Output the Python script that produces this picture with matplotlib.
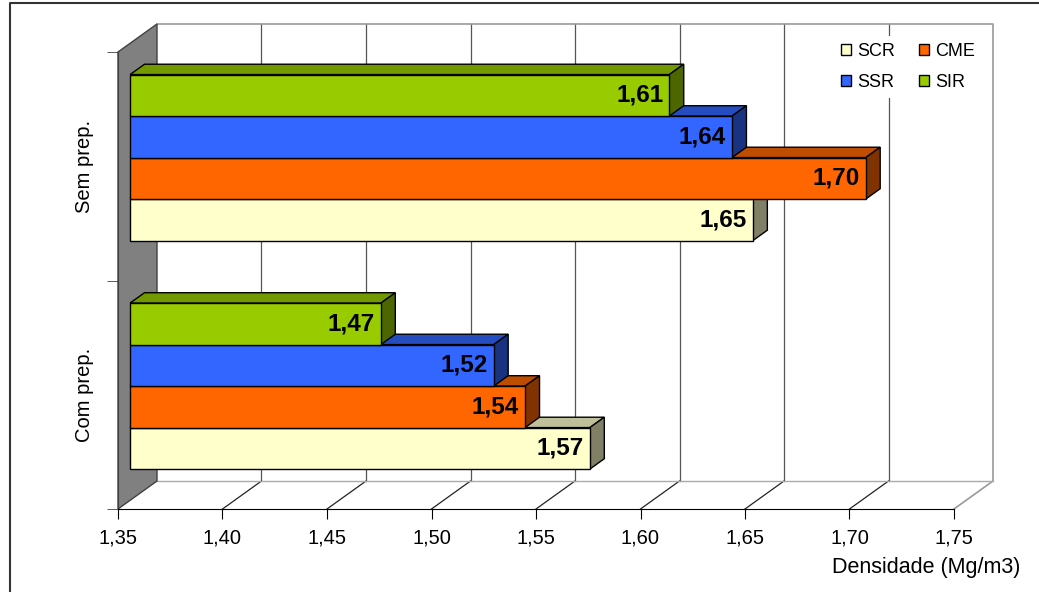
import matplotlib.pyplot as plt
import numpy as np
from matplotlib.patches import Polygon, Patch
from matplotlib.lines import Line2D

plt.rcParams['font.family'] = ['Liberation Sans', 'DejaVu Sans']

# dados
categorias = ['Com prep.', 'Sem prep.']
series = ['SCR', 'CME', 'SSR', 'SIR']
valores = {
    'SCR': [1.570, 1.648],
    'CME': [1.539, 1.702],
    'SSR': [1.524, 1.638],
    'SIR': [1.470, 1.608],
}
cores = {'SCR': '#FFFFCC', 'CME': '#FF6600', 'SSR': '#3366FF', 'SIR': '#99CC00'}
xticks = [1.35, 1.40, 1.45, 1.50, 1.55, 1.60, 1.65, 1.70, 1.75]

W, H = 1039, 592
fig = plt.figure(figsize=(W / 100, H / 100), dpi=100)
ax = fig.add_axes([118 / W, 83 / H, 836 / W, 457 / H])
x0, x1 = 1.35, 1.75
ax.set_xlim(x0, x1)
ax.set_ylim(0, 2)

# profundidade do "3D" em unidades de dados
px_x = (x1 - x0) / 836
px_y = 2 / 457
DX = 39 * px_x
DY = 28 * px_y
f1, f2 = 0.31, 0.68   # frente e fundo das barras


def escurece(c, k):
    r, g, b = [int(c[i:i + 2], 16) / 255 for i in (1, 3, 5)]
    return (r * k, g * k, b * k)


# parede do fundo e piso
for t in xticks[1:-1]:
    ax.plot([t + DX, t + DX], [DY, 2 + DY], color='#555555', lw=0.9, clip_on=False, zorder=1)
    ax.plot([t, t + DX], [0, DY], color='#222222', lw=0.9, clip_on=False, zorder=1)
ax.plot([x0 + DX, x1 + DX, x1 + DX, x1], [2 + DY, 2 + DY, DY, 0],
        color='#999999', lw=1.2, clip_on=False, zorder=1)
ax.plot([x0 + DX, x1 + DX], [DY, DY], color='#aaaaaa', lw=1.0, clip_on=False, zorder=1)

# parede lateral esquerda
parede = Polygon([(x0, 0), (x0 + DX, DY), (x0 + DX, 2 + DY), (x0, 2)],
                 facecolor='#808080', edgecolor='#404040', lw=1, clip_on=False, zorder=2)
ax.add_patch(parede)

# barras
alt = 0.1816
margem = (1 - 4 * alt) / 2
for c in range(len(categorias)):
    for i, s in enumerate(series):
        v = valores[s][c]
        ya = c + margem + i * alt
        yb = ya + alt
        ox1, oy1 = f1 * DX, f1 * DY
        ox2, oy2 = f2 * DX, f2 * DY
        topo = [(x0 + ox1, yb + oy1), (v + ox1, yb + oy1), (v + ox2, yb + oy2), (x0 + ox2, yb + oy2)]
        lado = [(v + ox1, ya + oy1), (v + ox1, yb + oy1), (v + ox2, yb + oy2), (v + ox2, ya + oy2)]
        frente = [(x0 + ox1, ya + oy1), (v + ox1, ya + oy1), (v + ox1, yb + oy1), (x0 + ox1, yb + oy1)]
        z = 3 + c * 10 + i
        ax.add_patch(Polygon(topo, facecolor=escurece(cores[s], 0.75), edgecolor='black',
                             lw=1, clip_on=False, zorder=z))
        ax.add_patch(Polygon(lado, facecolor=escurece(cores[s], 0.5), edgecolor='black',
                             lw=1, clip_on=False, zorder=z))
        ax.add_patch(Polygon(frente, facecolor=cores[s], edgecolor='black',
                             lw=1, clip_on=False, zorder=z))
        ax.text(v + ox1 - 6 * px_x, (ya + yb) / 2 + oy1, f"{v:.2f}".replace('.', ','),
                ha='right', va='center', fontsize=17.5, fontweight='bold', zorder=z + 0.5)

# eixos
for lado in ['top', 'right']:
    ax.spines[lado].set_visible(False)
ax.spines['left'].set_color('#404040')
ax.spines['bottom'].set_color('black')
ax.set_facecolor('none')
ax.set_xticks(xticks)
ax.set_xticklabels([f"{t:.2f}".replace('.', ',') for t in xticks], fontsize=14.5)
ax.tick_params(axis='x', direction='out', length=7, pad=7, color='black')
ax.set_yticks([0.5, 1.5])
ax.set_yticklabels(categorias, rotation=90, va='center', fontsize=14.5)
ax.set_yticks([0, 1, 2], minor=True)
ax.tick_params(axis='y', which='major', length=0, pad=17)
ax.tick_params(axis='y', which='minor', direction='out', length=8, color='#404040')

fig.text(1020 / W, 1 - 567 / H, 'Densidade (Mg/m3)', ha='right', va='center', fontsize=15.5)

# legenda
handles = [Patch(facecolor=cores[s], edgecolor='black', lw=1) for s in ['SCR', 'SSR', 'CME', 'SIR']]
leg = fig.legend(handles, ['SCR', 'SSR', 'CME', 'SIR'], ncol=2, loc='upper left',
                 bbox_to_anchor=(825 / W, 1 - 27 / H), fontsize=13, frameon=True,
                 facecolor='white', edgecolor='none', framealpha=1, fancybox=False,
                 handlelength=0.55, handleheight=0.55, handletextpad=0.35,
                 columnspacing=1.3, labelspacing=0.75, borderpad=0.4)
leg.set_zorder(50)

# moldura
fig.add_artist(Line2D([10 / W, 10 / W, 1], [0, 1 - 3 / H, 1 - 3 / H],
                      color='#333333', lw=1.5, transform=fig.transFigure))

fig.savefig('out.png', dpi=100)
